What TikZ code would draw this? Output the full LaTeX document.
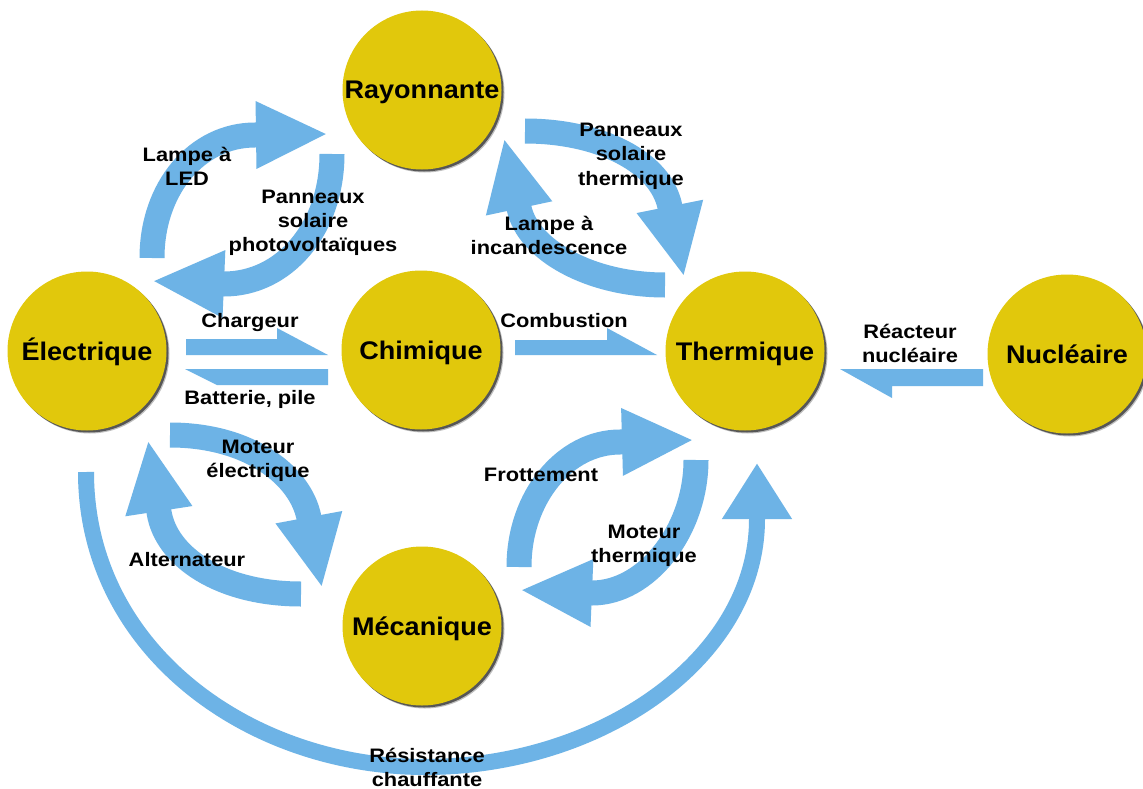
\documentclass[tikz,border=0pt]{standalone}
\usepackage{fontspec}
\newfontfamily\labfont[FakeStretch=1.12]{Liberation Sans Bold}
\newfontfamily\ballfont[FakeStretch=1.06]{Liberation Sans Bold}
\usetikzlibrary{arrows.meta,shadows}

\definecolor{flowblue}{RGB}{109,179,230}
\definecolor{ballgold}{RGB}{225,200,12}

\tikzset{
  ball/.style={circle, fill=ballgold, minimum size=159pt, inner sep=0pt,
    drop shadow={shadow xshift=3pt, shadow yshift=-3pt, fill=black, opacity=0.25},
    drop shadow={shadow xshift=2pt, shadow yshift=-2pt, fill=black, opacity=0.55},
    font=\ballfont\fontsize{25.5}{30}\selectfont, text height=18pt, text depth=0pt},
  lbl/.style={font=\labfont\fontsize{19.5}{24}\selectfont, align=center,
    anchor=base, inner sep=0pt},
  flow/.style={draw=flowblue, line width=25pt, line cap=butt,
    -{Triangle[length=72pt, width=62pt]}},
  bigflow/.style={draw=flowblue, line width=16pt, line cap=butt,
    -{Triangle[length=56pt, width=66pt]}},
  halfarrow/.style={fill=flowblue}
}

\begin{document}
\begin{tikzpicture}[x=1pt, y=-1pt]
  \fill[white] (0,0) rectangle (1143,789);
  \useasboundingbox (0,0) rectangle (1143,789);

  % end points of the curved flows
  \coordinate (ledA) at (152,258);  \coordinate (ledB) at (255,135);
  \coordinate (pvA)  at (332,154);  \coordinate (pvB)  at (224,284);
  \coordinate (pstA) at (525,131);  \coordinate (pstB) at (670,207);
  \coordinate (liA)  at (665,285);  \coordinate (liB)  at (519,208);
  \coordinate (meA)  at (170,435);  \coordinate (meB)  at (309,518);
  \coordinate (alA)  at (301,594);  \coordinate (alB)  at (159,512);
  \coordinate (frA)  at (519,567);  \coordinate (frB)  at (620,442);
  \coordinate (mtA)  at (696,460);  \coordinate (mtB)  at (592,593);
  \coordinate (rcA)  at (86,472);   \coordinate (rcM)  at (425,767);
  \coordinate (rcB)  at (757,519);

  % curved flows
  \draw[flow] (ledA) .. controls +(0,-70) and +(-58,0) .. (ledB) -- ++(73,-1);
  \draw[flow] (pvA) .. controls +(0,75) and +(60,0) .. (pvB) -- ++(-72,-3);
  \draw[flow] (pstA) .. controls +(75,0) and +(-9,-45) .. (pstB) -- ++(14,70);
  \draw[flow] (liA) .. controls +(-75,0) and +(9,42) .. (liB) -- ++(-15,-70);
  \draw[flow] (meA) .. controls +(80,0) and +(-8,-42) .. (meB) -- ++(13,70);
  \draw[flow] (alA) .. controls +(-80,0) and +(7,45) .. (alB) -- ++(-11,-72);
  \draw[flow] (frA) .. controls +(0,-70) and +(-55,0) .. (frB) -- ++(74,-2);
  \draw[flow] (mtA) .. controls +(0,70) and +(55,0) .. (mtB) -- ++(-72,-3);
  \draw[bigflow] (rcA) .. controls +(0,178) and +(-175,0) .. (rcM)
                 .. controls +(175,0) and +(0,140) .. (rcB) -- ++(0,-56);

  % straight flows with a one-sided head
  \coordinate (chA) at (186,339);
  \fill[halfarrow] (chA) -- ++(91,0) -- ++(0,-11) -- ++(51,27) -- ++(-142,0) -- cycle;
  \coordinate (baA) at (328,369);
  \fill[halfarrow] (baA) -- ++(-143,0) -- ++(32,16) -- ++(111,0) -- cycle;
  \coordinate (coA) at (515,340);
  \fill[halfarrow] (coA) -- ++(92,0) -- ++(0,-12) -- ++(50,27) -- ++(-142,0) -- cycle;
  \coordinate (reA) at (983,369);
  \fill[halfarrow] (reA) -- ++(-143,0) -- ++(52,29) -- ++(0,-12) -- ++(91,0) -- cycle;

  % forms of energy
  \node[ball] (ray)  at (422,90)   {Rayonnante};
  \node[ball] (elec) at (87,351)   {Électrique};
  \node[ball] (chim) at (421,350)  {Chimique};
  \node[ball] (ther) at (745,351)  {Thermique};
  \node[ball] (nucl) at (1067,354) {Nucléaire};
  \node[ball] (meca) at (422,626)  {Mécanique};

  % conversion labels (placed at the baseline of their last line)
  \node[lbl] (tLed)  at (187,185) {Lampe à\\LED};
  \node[lbl] (tPv)   at (313,251) {Panneaux\\solaire\\photovoltaïques};
  \node[lbl] (tPst)  at (631,185) {Panneaux\\solaire\\thermique};
  \node[lbl] (tLi)   at (549,254) {Lampe à\\incandescence};
  \node[lbl] (tCh)   at (250,327) {Chargeur};
  \node[lbl] (tBa)   at (250,404) {Batterie, pile};
  \node[lbl] (tCo)   at (564,327) {Combustion};
  \node[lbl] (tRe)   at (910,362) {Réacteur\\nucléaire};
  \node[lbl] (tMe)   at (258,477) {Moteur\\électrique};
  \node[lbl] (tAl)   at (187,566) {Alternateur};
  \node[lbl] (tFr)   at (541,481) {Frottement};
  \node[lbl] (tMt)   at (644,562) {Moteur\\thermique};
  \node[lbl] (tRc)   at (427,786) {Résistance\\chauffante};
\end{tikzpicture}
\end{document}
